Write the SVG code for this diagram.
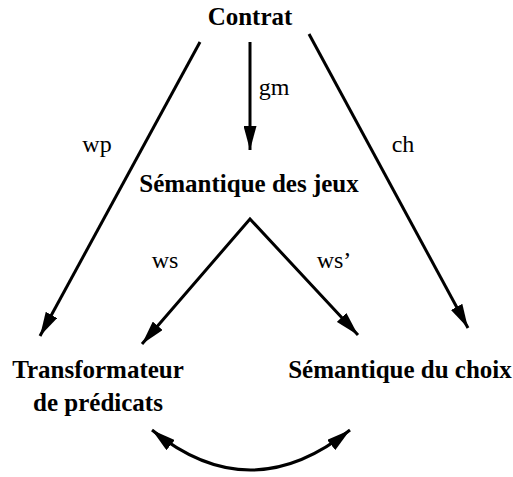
<svg xmlns="http://www.w3.org/2000/svg" width="513" height="477" viewBox="0 0 513 477">
<style>
.node{font-family:'Liberation Serif','Times New Roman',serif;font-weight:bold;font-size:25px;fill:#000;text-anchor:middle}
.lbl{font-family:'Liberation Serif','Times New Roman',serif;font-size:24px;fill:#000;text-anchor:middle}
.edge{stroke:#000;stroke-width:3;fill:none}
</style>
<defs>
<marker id="ah" viewBox="0 0 24 13" refX="24" refY="6.5" markerWidth="24" markerHeight="13" markerUnits="userSpaceOnUse" orient="auto-start-reverse">
<path d="M0,0 L24,6.5 L0,13 Z" fill="#000"/>
</marker>
</defs>
<rect width="513" height="477" fill="#fff"/>
<g id="contrat"><text class="node" x="250" y="25">Contrat</text></g>
<g id="jeux"><text class="node" x="249" y="192">Sémantique des jeux</text></g>
<g id="transformateur"><text class="node" x="98" y="378">Transformateur</text><text class="node" x="98" y="411">de prédicats</text></g>
<g id="choix"><text class="node" x="400" y="378">Sémantique du choix</text></g>
<g id="connectors">
<line class="edge" x1="250" y1="42" x2="250" y2="150" marker-end="url(#ah)"/>
<line class="edge" x1="200" y1="42" x2="40" y2="336" marker-end="url(#ah)"/>
<line class="edge" x1="309" y1="34" x2="468" y2="328" marker-end="url(#ah)"/>
<polyline class="edge" points="142,344 250,219 358,335" marker-start="url(#ah)" marker-end="url(#ah)"/>
<path class="edge" d="M152,430 Q250,510 350,430" marker-start="url(#ah)" marker-end="url(#ah)"/>
<text class="lbl" x="274" y="95">gm</text>
<text class="lbl" x="97" y="152">wp</text>
<text class="lbl" x="403" y="152">ch</text>
<text class="lbl" x="165" y="268">ws</text>
<text class="lbl" x="334" y="268">ws’</text>
</g>
</svg>
